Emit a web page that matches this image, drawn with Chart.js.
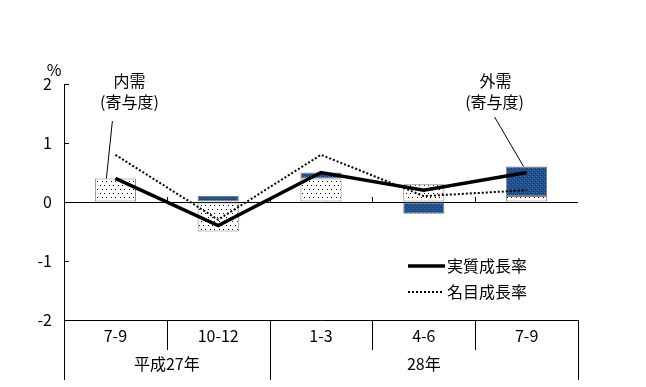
<!DOCTYPE html>
<html>
<head>
<meta charset="utf-8">
<script src="https://cdn.jsdelivr.net/npm/chart.js@4.4.0/dist/chart.umd.min.js"></script>
<style>
  body { margin: 0; background: #fff; }
  #wrap { width: 646px; height: 387px; }
</style>
</head>
<body>
<div id="wrap"><canvas id="chart"></canvas></div>
<script>
// quarters and the year each group belongs to
const quarters = ["7-9", "10-12", "1-3", "4-6", "7-9"];
const yearLabels = ["平成27年", "28年"];
const yearStarts = [0, 2];

// contributions to growth (%)
const domestic = [0.4, -0.5, 0.4, 0.3, 0.1];
const external = [0.0, 0.1, 0.1, -0.2, 0.5];

// growth rates (%)
const realGrowth = [0.4, -0.4, 0.5, 0.2, 0.5];
const nominalGrowth = [0.8, -0.3, 0.8, 0.1, 0.2];

const FONT = '16px "Noto Sans CJK JP", "Noto Sans", sans-serif';

// white with small black dots
function dotPattern() {
  const c = document.createElement("canvas");
  c.width = 9; c.height = 8;
  const g = c.getContext("2d");
  g.fillStyle = "#fff";
  g.fillRect(0, 0, 9, 8);
  g.fillStyle = "#000";
  g.fillRect(1, 1, 1, 1);
  g.fillRect(5, 1, 1, 1);
  g.fillRect(3, 5, 1, 1);
  g.fillRect(7, 5, 1, 1);
  return g.createPattern(c, "repeat");
}

// speckled dark blue
function bluePattern() {
  const c = document.createElement("canvas");
  c.width = 4; c.height = 4;
  const g = c.getContext("2d");
  g.fillStyle = "#22508f";
  g.fillRect(0, 0, 4, 4);
  g.fillStyle = "#3b6cab";
  g.fillRect(0, 0, 1, 1);
  g.fillRect(2, 2, 1, 1);
  g.fillStyle = "#173d70";
  g.fillRect(3, 1, 1, 1);
  g.fillRect(1, 3, 1, 1);
  return g.createPattern(c, "repeat");
}

const decor = {
  id: "decor",
  afterDraw(chart) {
    const ctx = chart.ctx;
    const x = chart.scales.x, y = chart.scales.y;
    const area = chart.chartArea;
    const y0 = y.getPixelForValue(0);
    const half = (x.getPixelForValue(1) - x.getPixelForValue(0)) / 2;
    const b = area.bottom;

    ctx.save();
    ctx.strokeStyle = "#000";
    ctx.lineWidth = 1;
    ctx.beginPath();
    // inward ticks on the y axis
    [-1, 1, 2].forEach(v => {
      const py = Math.round(y.getPixelForValue(v)) + 0.5;
      ctx.moveTo(area.left, py);
      ctx.lineTo(area.left + 5, py);
    });
    // small ticks on the zero line
    for (let i = 1; i < quarters.length; i++) {
      const px = Math.round(x.getPixelForValue(i) - half) + 0.5;
      ctx.moveTo(px, y0);
      ctx.lineTo(px, y0 - 5);
    }
    // table under the axis
    const edge = v => Math.round(v) + 0.5;
    ctx.moveTo(edge(area.left), b);
    ctx.lineTo(edge(area.left), b + 60);
    ctx.moveTo(edge(area.right), b);
    ctx.lineTo(edge(area.right), b + 60);
    for (let i = 1; i < quarters.length; i++) {
      const px = edge(x.getPixelForValue(i) - half);
      ctx.moveTo(px, b);
      ctx.lineTo(px, yearStarts.includes(i) ? b + 60 : b + 30);
    }
    ctx.stroke();

    ctx.fillStyle = "#000";
    ctx.font = FONT;
    ctx.textAlign = "center";
    ctx.textBaseline = "middle";
    quarters.forEach((q, i) => ctx.fillText(q, x.getPixelForValue(i), b + 16));
    yearLabels.forEach((lab, k) => {
      const s = yearStarts[k];
      const e = k + 1 < yearStarts.length ? yearStarts[k + 1] - 1 : quarters.length - 1;
      ctx.fillText(lab, (x.getPixelForValue(s) + x.getPixelForValue(e)) / 2, b + 44);
    });

    // unit
    ctx.fillText("%", area.left - 10, area.top - 14);

    // callouts
    const c0 = x.getPixelForValue(0);
    ctx.fillText("内需", c0 + 14, 81);
    ctx.fillText("(寄与度)", c0 + 14, 102);
    const c4 = x.getPixelForValue(4);
    ctx.fillText("外需", c4 - 31, 81);
    ctx.fillText("(寄与度)", c4 - 32, 102);
    ctx.beginPath();
    ctx.moveTo(c0 - 3, 121);
    ctx.lineTo(c0 - 9, y.getPixelForValue(domestic[0]));
    ctx.moveTo(c4 - 32, 117);
    ctx.lineTo(c4 - 3, y.getPixelForValue(domestic[4] + external[4]));
    ctx.stroke();

    // legend
    ctx.textAlign = "left";
    ctx.lineWidth = 3.5;
    ctx.beginPath();
    ctx.moveTo(408, 266);
    ctx.lineTo(445, 266);
    ctx.stroke();
    ctx.fillText("実質成長率", 447, 266);
    ctx.lineWidth = 2;
    ctx.setLineDash([2, 2]);
    ctx.beginPath();
    ctx.moveTo(408, 292);
    ctx.lineTo(443, 292);
    ctx.stroke();
    ctx.setLineDash([]);
    ctx.fillText("名目成長率", 447, 292);
    ctx.restore();
  }
};

new Chart(document.getElementById("chart"), {
  type: "bar",
  data: {
    labels: quarters,
    datasets: [
      {
        type: "line",
        label: "実質成長率",
        data: realGrowth,
        stack: "real",
        borderColor: "#000",
        borderWidth: 3.5,
        pointRadius: 0,
        fill: false,
        order: 0
      },
      {
        type: "line",
        label: "名目成長率",
        data: nominalGrowth,
        stack: "nominal",
        borderColor: "#000",
        borderWidth: 2,
        borderDash: [2, 2],
        pointRadius: 0,
        fill: false,
        order: 0
      },
      {
        label: "内需",
        data: domestic,
        stack: "contrib",
        backgroundColor: dotPattern(),
        borderColor: "#808080",
        borderWidth: 1,
        borderSkipped: false,
        categoryPercentage: 1,
        barPercentage: 0.4,
        order: 1
      },
      {
        label: "外需",
        data: external,
        stack: "contrib",
        backgroundColor: bluePattern(),
        borderColor: "#808080",
        borderWidth: 1,
        borderSkipped: false,
        categoryPercentage: 1,
        barPercentage: 0.4,
        order: 1
      }
    ]
  },
  options: {
    responsive: true,
    maintainAspectRatio: false,
    animation: false,
    layout: { padding: { top: 84, right: 68, left: 0, bottom: 0 } },
    plugins: { legend: { display: false }, tooltip: { enabled: false } },
    scales: {
      x: {
        stacked: true,
        afterFit: s => { s.height = 67; },
        ticks: { display: false },
        grid: { display: false },
        border: { display: true, color: "#000" }
      },
      y: {
        stacked: true,
        min: -2,
        max: 2,
        afterFit: s => { s.width = 64; },
        ticks: {
          stepSize: 1,
          padding: 12,
          color: "#000",
          font: { family: '"Noto Sans CJK JP", "Noto Sans", sans-serif', size: 16 }
        },
        grid: {
          drawTicks: false,
          color: c => (c.tick && c.tick.value === 0 ? "#000" : "rgba(0,0,0,0)")
        },
        border: { display: true, color: "#000" }
      }
    }
  },
  plugins: [decor]
});
</script>
</body>
</html>
